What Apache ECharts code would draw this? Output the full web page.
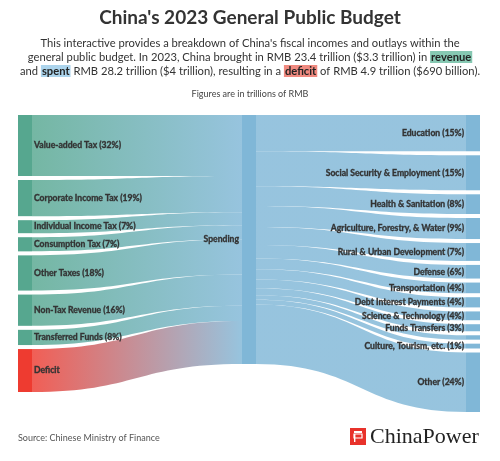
<!DOCTYPE html>
<html>
<head>
<meta charset="utf-8">
<script src="https://cdn.jsdelivr.net/npm/echarts@6/dist/echarts.min.js"></script>
<style>
html,body{margin:0;padding:0;background:#fff;}
#main{width:500px;height:461px;}
</style>
</head>
<body>
<div id="main"></div>
<script>
// Sources of funds (trillion RMB)
const sourceNames = ["Value-added Tax (32%)", "Corporate Income Tax (19%)", "Individual Income Tax (7%)", "Consumption Tax (7%)", "Other Taxes (18%)", "Non-Tax Revenue (16%)", "Transferred Funds (8%)", "Deficit"];
const sourceValues = [6.93, 4.11, 1.48, 1.61, 4.0, 3.55, 1.73, 4.88];
// Central node
const hubName = "Spending";
// Uses of funds (trillion RMB)
const useNames = ["Education (15%)", "Social Security & Employment (15%)", "Health & Sanitation (8%)", "Agriculture, Forestry, & Water (9%)", "Rural & Urban Development (7%)", "Defense (6%)", "Transportation (4%)", "Debt Interest Payments (4%)", "Science & Technology (4%)", "Funds Transfers (3%)", " ", "Culture, Tourism, etc. (1%)", "Other (24%)"];
const useValues = [4.12, 3.98, 2.24, 2.39, 2.03, 1.55, 1.21, 1.16, 1.0, 0.8, 0.5, 0.55, 6.76];

const TEAL = '#56a78f', RED = '#ee3b30', BLUE = '#80b7d7';
const FONT = 'Lato, "Open Sans", sans-serif';

const nodes = [];
sourceNames.forEach((n, i) => nodes.push({
  name: n, depth: 0,
  itemStyle: {color: n === 'Deficit' ? RED : TEAL},
  label: {position: 'right', distance: 2}
}));
nodes.push({name: hubName, depth: 1, itemStyle: {color: BLUE}, label: {position: 'left', distance: 3}});
useNames.forEach(n => nodes.push({
  name: n, depth: 2, itemStyle: {color: BLUE},
  label: {position: 'left', distance: 2}
}));
const links = [];
sourceNames.forEach((n, i) => links.push({source: n, target: hubName, value: sourceValues[i]}));
useNames.forEach((n, i) => links.push({source: hubName, target: n, value: useValues[i]}));

const chart = echarts.init(document.getElementById('main'), null, {renderer: 'canvas'});
chart.setOption({
  backgroundColor: '#fff',
  animation: false,
  series: [{
    type: 'sankey',
    left: 18, top: 115, right: 20, bottom: 49,
    nodeWidth: 14,
    nodeGap: 4,
    layoutIterations: 0,
    draggable: false,
    emphasis: {disabled: true},
    data: nodes,
    links: links,
    lineStyle: {color: 'gradient', opacity: 0.82, curveness: 0.5},
    itemStyle: {borderWidth: 0},
    label: {
      color: '#333', fontSize: 8.6, fontWeight: 'bold', fontFamily: FONT,
      textBorderColor: '#333', textBorderWidth: 0.35
    }
  }],
  graphic: [
    {type: 'text', x: 250, y: 18, style: {text: "China's 2023 General Public Budget", align: 'center', verticalAlign: 'middle', font: 'bold 19px ' + FONT, fill: '#333'}},
    {type: 'text', x: 250, y: 43, style: {text: "This interactive provides a breakdown of China's fiscal incomes and outlays within the", align: 'center', verticalAlign: 'middle', font: '11.2px ' + FONT, fill: '#333'}},
    {type: 'text', x: 250, y: 57, style: {
      text: "general public budget. In 2023, China brought in RMB 23.4 trillion ($3.3 trillion) in {rev|revenue}",
      align: 'center', verticalAlign: 'middle', font: '11.2px ' + FONT, fill: '#333',
      rich: {rev: {fontWeight: 'bold', fontSize: 11.2, fontFamily: FONT, fill: '#222', backgroundColor: '#86c8b2', padding: [1, 1, 0, 1]}}
    }},
    {type: 'text', x: 250, y: 71, style: {
      text: "and {sp|spent} RMB 28.2 trillion ($4 trillion), resulting in a {df|deficit} of RMB 4.9 trillion ($690 billion).",
      align: 'center', verticalAlign: 'middle', font: '11.2px ' + FONT, fill: '#333',
      rich: {
        sp: {fontWeight: 'bold', fontSize: 11.2, fontFamily: FONT, fill: '#222', backgroundColor: '#acd4ec', padding: [1, 1, 0, 1]},
        df: {fontWeight: 'bold', fontSize: 11.2, fontFamily: FONT, fill: '#222', backgroundColor: '#f08a80', padding: [1, 1, 0, 1]}
      }
    }},
    {type: 'text', x: 250, y: 94, style: {text: 'Figures are in trillions of RMB', align: 'center', verticalAlign: 'middle', font: '9px ' + FONT, fill: '#444'}},
    {type: 'text', x: 18, y: 438, style: {text: 'Source: Chinese Ministry of Finance', align: 'left', verticalAlign: 'middle', font: '9px ' + FONT, fill: '#555'}},
    {type: 'rect', shape: {x: 350, y: 428, width: 16, height: 17}, style: {fill: '#e8322b'}},
    {type: 'rect', shape: {x: 354, y: 431, width: 8, height: 2}, style: {fill: '#fff'}},
    {type: 'rect', shape: {x: 354, y: 434, width: 8, height: 4}, style: {fill: 'none', stroke: '#fff', lineWidth: 1.2}},
    {type: 'rect', shape: {x: 354, y: 434, width: 1.4, height: 8}, style: {fill: '#fff'}},
    {type: 'text', x: 370, y: 437, style: {text: 'ChinaPower', align: 'left', verticalAlign: 'middle', font: '22px "Liberation Serif", "DejaVu Serif", serif', fill: '#222'}}
  ]
});
</script>
</body>
</html>
